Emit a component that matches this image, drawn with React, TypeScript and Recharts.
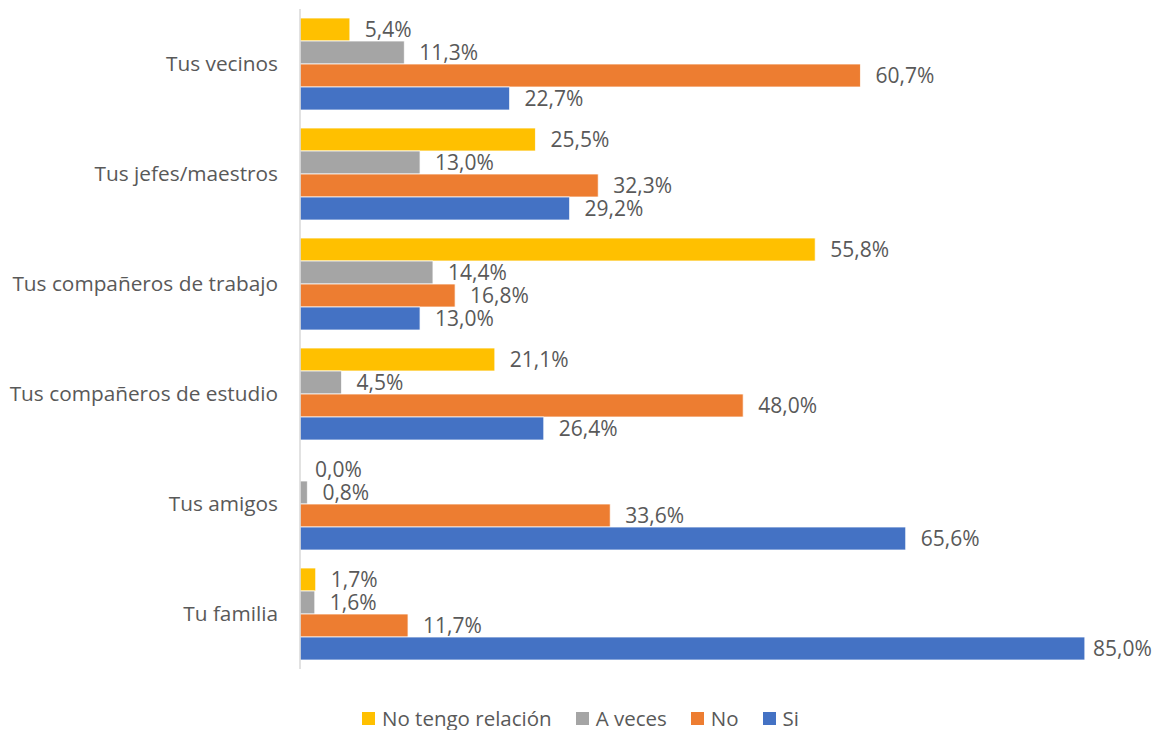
import { BarChart, Bar, XAxis, YAxis, Legend, LabelList } from "recharts";

const categories = [
  "Tus vecinos",
  "Tus jefes/maestros",
  "Tus compañeros de trabajo",
  "Tus compañeros de estudio",
  "Tus amigos",
  "Tu familia",
];

const noTengoRelacion = [5.4, 25.5, 55.8, 21.1, 0.0, 1.7];
const aVeces = [11.3, 13.0, 14.4, 4.5, 0.8, 1.6];
const no = [60.7, 32.3, 16.8, 48.0, 33.6, 11.7];
const si = [22.7, 29.2, 13.0, 26.4, 65.6, 85.0];

const series = [
  { key: "noTengo", name: "No tengo relación", color: "#FFC000" },
  { key: "aVeces", name: "A veces", color: "#A5A5A5" },
  { key: "no", name: "No", color: "#ED7D31" },
  { key: "si", name: "Si", color: "#4472C4" },
];

const data = categories.map((cat, i) => ({
  cat,
  noTengo: noTengoRelacion[i],
  aVeces: aVeces[i],
  no: no[i],
  si: si[i],
}));

const FONT = "'Open Sans', sans-serif";
const TEXT = "#595959";
const CHART_W = 1153;

const pct = (v: number) => `${Number(v).toFixed(1).replace(".", ",")}%`;

// value label to the right of the bar, pulled back in if it would run off the edge
function ValueLabel(props: any) {
  const { x, y, width, height, value } = props;
  const labelW = 58;
  let left = Number(x) + Number(width) + 15;
  if (left + labelW > CHART_W - 2) left = CHART_W - 2 - labelW;
  return (
    <text
      x={left}
      y={Number(y) + Number(height) / 2}
      dy="0.36em"
      fill={TEXT}
      fontSize={21}
      fontFamily={FONT}
    >
      {pct(value)}
    </text>
  );
}

function ChartLegend() {
  return (
    <div
      style={{
        display: "flex",
        justifyContent: "center",
        alignItems: "center",
        paddingTop: 36,
        paddingLeft: 30,
        height: 26,
        fontFamily: FONT,
        fontSize: 20.5,
        color: TEXT,
      }}
    >
      {series.map((s) => (
        <div
          key={s.key}
          style={{ display: "flex", alignItems: "center", margin: "0 12px" }}
        >
          <span
            style={{
              width: 13,
              height: 13,
              background: s.color,
              display: "inline-block",
              marginRight: 7,
            }}
          />
          <span>{s.name}</span>
        </div>
      ))}
    </div>
  );
}

export default function App() {
  return (
    <div style={{ position: "absolute", left: 0, top: 0, background: "#fff" }}>
      <BarChart
        width={CHART_W}
        height={730}
        data={data}
        layout="vertical"
        margin={{ top: 9, right: 22, left: 0, bottom: 0 }}
        barCategoryGap={9}
        barGap={0}
      >
        <XAxis type="number" domain={[0, 90]} hide />
        <YAxis
          type="category"
          dataKey="cat"
          width={300}
          tickLine={false}
          tickSize={0}
          tickMargin={22}
          axisLine={{ stroke: "#D9D9D9", strokeWidth: 1.5 }}
          tick={{ fill: TEXT, fontSize: 20.8, fontFamily: FONT }}
          interval={0}
        />
        <Legend verticalAlign="bottom" height={61} content={() => <ChartLegend />} />
        {series.map((s) => (
          <Bar
            key={s.key}
            dataKey={s.key}
            name={s.name}
            fill={s.color}
            stroke="#ffffff"
            strokeWidth={0.75}
            minPointSize={0.05}
            isAnimationActive={false}
          >
            <LabelList dataKey={s.key} content={<ValueLabel />} />
          </Bar>
        ))}
      </BarChart>
    </div>
  );
}
